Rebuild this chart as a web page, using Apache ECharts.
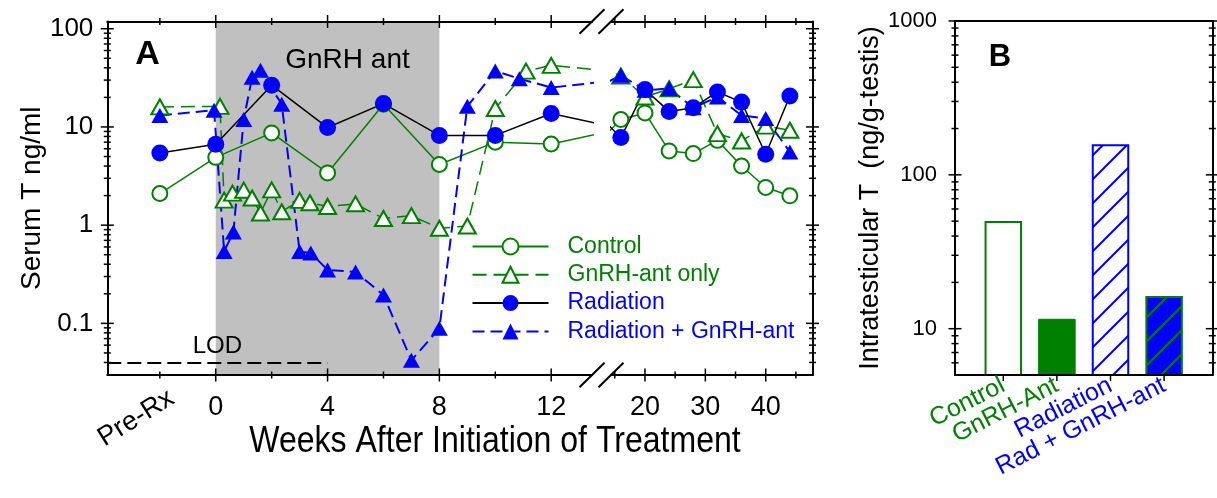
<!DOCTYPE html>
<html>
<head>
<meta charset="utf-8">
<script src="https://cdn.jsdelivr.net/npm/echarts@6.0.0/dist/echarts.min.js"></script>
<style>
html,body{margin:0;padding:0;background:#ffffff;}
#chart{width:1217px;height:498px;}
</style>
</head>
<body>
<div id="chart"></div>
<script>
// ================= DATA =================
// Panel A: serum T (ng/ml) vs weeks after initiation of treatment (-2 = Pre-Rx)
const CONTROL_WEEKS = [-2, 0, 2, 4, 6, 8, 10, 12, 16, 20, 24, 28, 32, 36, 40, 44];
const CONTROL_T     = [2.1, 4.9, 8.7, 3.4, 17.0, 4.15, 7.0, 6.7, 11.9, 13.9, 5.7, 5.36, 7.3, 4.0, 2.42, 1.99];

const RADIATION_WEEKS = [-2, 0, 2, 4, 6, 8, 10, 12, 16, 20, 24, 28, 32, 36, 40, 44];
const RADIATION_T     = [5.44, 6.67, 26.6, 9.86, 17.3, 8.2, 8.2, 13.7, 7.8, 24.0, 14.4, 15.7, 22.7, 17.9, 5.27, 20.7];

const GNRH_WEEKS = [-2, 0.15, 0.3, 0.6, 1.0, 1.3, 1.6, 2.0, 2.36, 3.0, 3.37, 4, 5, 6, 7, 8, 9, 10, 11.1, 12, 16, 20, 24, 28, 32, 36, 40, 44];
const GNRH_T     = [16.0, 16.2, 1.8, 2.12, 2.27, 1.89, 1.33, 2.29, 1.37, 1.79, 1.69, 1.55, 1.65, 1.17, 1.25, 0.93, 0.98, 15.4, 37.0, 42.4, 33.0, 20.2, 24.5, 30.3, 8.55, 7.2, 10.2, 9.25];

const RADGNRH_WEEKS = [-2, -0.06, 0.3, 0.63, 1.0, 1.3, 1.6, 2.36, 3.0, 3.4, 4, 5, 6, 7, 8, 9, 10, 10.86, 12, 16, 20, 24, 28, 32, 36, 40, 44];
const RADGNRH_T     = [13.1, 14.8, 0.54, 0.85, 11.9, 32.0, 37.7, 17.0, 0.54, 0.52, 0.35, 0.334, 0.194, 0.042, 0.089, 16.2, 37.2, 31.0, 25.2, 33.6, 23.6, 24.6, 15.7, 20.2, 13.1, 12.2, 5.57];

const SERIES_NAMES = ['Control', 'GnRH-ant only', 'Radiation', 'Radiation + GnRH-ant'];
const LOD_VALUE = 0.04;
const LOD_END_WEEK = 4;
const GNRH_PERIOD = [0, 8];

// Panel B: intratesticular T (ng/g-testis)
const B_CATEGORIES = ['Control', 'GnRH-Ant', 'Radiation', 'Rad + GnRH-ant'];
const B_VALUES     = [50.2, 11.6, 158, 16.3];

// Tick values / labels
const A_Y_LABEL_TICKS = [0.1, 1, 10, 100];
const A_Y_MINOR_TICKS = [0.04, 0.05, 0.06, 0.07, 0.08, 0.09, 0.2, 0.3, 0.4, 0.5, 0.6, 0.7, 0.8, 0.9,
                         2, 3, 4, 5, 6, 7, 8, 9, 20, 30, 40, 50, 60, 70, 80, 90];
const A1_X_LABEL_TICKS = [0, 4, 8, 12];
const A1_X_MINOR_TICKS = [-2, 2, 6, 10];
const PRE_RX_TICK = [-2];
const PRE_RX_LABEL = 'Pre-Rx';
const A2_X_LABEL_TICKS = [20, 30, 40];
const A2_X_MINOR_TICKS = [15, 25, 35, 45];
const B_Y_LABEL_TICKS = [10, 100, 1000];
const B_Y_MINOR_TICKS = [6, 7, 8, 9, 20, 30, 40, 50, 60, 70, 80, 90, 200, 300, 400, 500, 600, 700, 800, 900];

// ================= LAYOUT / STYLE =================
const A_TOP = 21.5, A_BOTTOM = 375;
const A1_LEFT = 107.3, A1_RIGHT = 592, A2_LEFT = 611, A2_RIGHT = 812.5;
const B_LEFT = 955, B_RIGHT = 1212.3, B_TOP = 21, B_BOTTOM = 375;
const B_CAT_LEFT = 976.5, B_CAT_WIDTH = 214.4;
const A1_XMIN = -3.88, A1_XMAX = 13.46, A2_XMIN = 14.37, A2_XMAX = 47.75;
const A_YMIN = 0.0298, A_YMAX = 118.5;
const B_XMIN = 0, B_XMAX = 1, B_YMIN = 5, B_YMAX = 1000;
const PRE_RX_SHIFT = 12;

const SANS = "'Liberation Sans', Arial, sans-serif";
const GREEN = '#008000', BLUE = '#0000ff', BLACK = '#000000';

function hatch(bg, fg, size, lw) {
  const c = document.createElement('canvas');
  c.width = size; c.height = size;
  const g = c.getContext('2d');
  g.fillStyle = bg; g.fillRect(0, 0, size, size);
  g.strokeStyle = fg; g.lineWidth = lw;
  g.beginPath();
  g.moveTo(-2, size + 2); g.lineTo(size + 2, -2);
  g.moveTo(-2, 2); g.lineTo(2, -2);
  g.moveTo(size - 2, size + 2); g.lineTo(size + 2, size - 2);
  g.stroke();
  return c;
}

const BAR_STYLES = [
  { color: '#ffffff', borderColor: GREEN, borderWidth: 2 },
  { color: GREEN, borderColor: GREEN, borderWidth: 1 },
  { color: { image: hatch('#ffffff', BLUE, 24, 2), repeat: 'repeat' }, borderColor: BLUE, borderWidth: 2 },
  { color: { image: hatch(BLUE, GREEN, 24, 2), repeat: 'repeat' }, borderColor: GREEN, borderWidth: 2 }
];
const B_LABEL_KEYS = ['g', 'g', 'b', 'b'];

const LINE_STYLES = {
  'Control': { line: { color: GREEN, width: 1.5, type: 'solid' }, symbol: 'circle', size: 15,
               item: { color: '#ffffff', borderColor: GREEN, borderWidth: 2 } },
  'GnRH-ant only': { line: { color: GREEN, width: 1.5, type: [14, 7] }, symbol: 'triangle', size: [17, 15],
               item: { color: '#ffffff', borderColor: GREEN, borderWidth: 2 } },
  'Radiation + GnRH-ant': { line: { color: BLUE, width: 2, type: [12, 6] }, symbol: 'triangle', size: [17, 15],
               item: { color: BLUE, borderWidth: 0 } },
  'Radiation': { line: { color: BLACK, width: 1.5, type: 'solid' }, symbol: 'circle', size: 17,
               item: { color: BLUE, borderWidth: 0 } }
};

const SERIES_DATA = {
  'Control': [CONTROL_WEEKS, CONTROL_T],
  'GnRH-ant only': [GNRH_WEEKS, GNRH_T],
  'Radiation + GnRH-ant': [RADGNRH_WEEKS, RADGNRH_T],
  'Radiation': [RADIATION_WEEKS, RADIATION_T]
};
const DRAW_ORDER = ['Control', 'GnRH-ant only', 'Radiation + GnRH-ant', 'Radiation'];

function zip(xs, ys) { return xs.map((x, i) => [x, ys[i]]); }

function lineSeries(name, xIdx, yIdx, extra) {
  const st = LINE_STYLES[name];
  const d = SERIES_DATA[name];
  return Object.assign({
    type: 'line', name: name, xAxisIndex: xIdx, yAxisIndex: yIdx,
    data: zip(d[0], d[1]),
    symbol: st.symbol, symbolSize: st.size, showAllSymbol: true,
    lineStyle: st.line, itemStyle: st.item,
    clip: true, silent: true, animation: false,
    emphasis: { disabled: true }
  }, extra || {});
}

function tickRender(params, api) {
  const p = api.coord([api.value(0), api.value(1)]);
  const kind = api.value(2);
  const L = api.value(3) ? 6.5 : 3.5;
  let shape;
  if (kind === 0) shape = { x1: p[0] - L, y1: p[1], x2: p[0] + L, y2: p[1] };
  else if (kind === 1) shape = { x1: p[0], y1: p[1] - L, x2: p[0], y2: p[1] + L };
  else shape = { x1: p[0], y1: p[1], x2: p[0], y2: p[1] + 6 };
  return { type: 'line', shape: shape, style: { stroke: BLACK, lineWidth: 1.5 } };
}
function tickSeries(xIdx, yIdx, items) {
  return { type: 'custom', xAxisIndex: xIdx, yAxisIndex: yIdx, silent: true, z: 12,
           animation: false, data: items, renderItem: tickRender };
}
function yTicks(xEdges, majors, minors) {
  const out = [];
  xEdges.forEach(x => {
    majors.forEach(v => out.push([x, v, 0, 1]));
    minors.forEach(v => out.push([x, v, 0, 0]));
  });
  return out;
}
function xTicks(yEdges, majors, minors) {
  const out = [];
  yEdges.forEach(y => {
    majors.forEach(v => out.push([v, y, 1, 1]));
    minors.forEach(v => out.push([v, y, 1, 0]));
  });
  return out;
}

const AXLINE = { show: true, onZero: false, lineStyle: { color: BLACK, width: 2 } };
function baseAxis(type, grid, min, max, pos, label, showLine) {
  const a = {
    type: type, gridIndex: grid, min: min, max: max, position: pos,
    axisLine: showLine === false ? { show: false, onZero: false } : AXLINE,
    axisTick: { show: false }, splitLine: { show: false }, minorTick: { show: false },
    minorSplitLine: { show: false },
    axisLabel: label || { show: false }, z: 10
  };
  if (type === 'log') a.logBase = 10;
  return a;
}

const chart = echarts.init(document.getElementById('chart'), null, { renderer: 'canvas', width: 1217, height: 498 });

const gridA1 = { left: A1_LEFT, top: A_TOP, width: A1_RIGHT - A1_LEFT, height: A_BOTTOM - A_TOP, outerBoundsMode: 'none', containLabel: false };
const gridA2 = { left: A2_LEFT, top: A_TOP, width: A2_RIGHT - A2_LEFT, height: A_BOTTOM - A_TOP, outerBoundsMode: 'none', containLabel: false };
const gridB  = { left: B_LEFT, top: B_TOP, width: B_RIGHT - B_LEFT, height: B_BOTTOM - B_TOP, outerBoundsMode: 'none', containLabel: false };
const gridPre = Object.assign({}, gridA1, { left: A1_LEFT + PRE_RX_SHIFT });
const gridBcat = Object.assign({}, gridB, { left: B_CAT_LEFT, width: B_CAT_WIDTH });

const option = {
  animation: false,
  backgroundColor: '#ffffff',
  textStyle: { fontFamily: SANS },
  grid: [gridA1, gridA2, gridB, gridPre, gridBcat],
  xAxis: [
    baseAxis('value', 0, A1_XMIN, A1_XMAX, 'bottom',
      { show: true, customValues: A1_X_LABEL_TICKS, fontFamily: SANS, fontSize: 27, color: BLACK, margin: 19 }),
    baseAxis('value', 0, A1_XMIN, A1_XMAX, 'top'),
    baseAxis('value', 1, A2_XMIN, A2_XMAX, 'bottom',
      { show: true, customValues: A2_X_LABEL_TICKS, fontFamily: SANS, fontSize: 27, color: BLACK, margin: 19 }),
    baseAxis('value', 1, A2_XMIN, A2_XMAX, 'top'),
    baseAxis('value', 2, B_XMIN, B_XMAX, 'bottom'),
    baseAxis('value', 2, B_XMIN, B_XMAX, 'top'),
    baseAxis('value', 3, A1_XMIN, A1_XMAX, 'bottom',
      { show: true, customValues: PRE_RX_TICK, formatter: () => PRE_RX_LABEL, rotate: 32,
        showMinLabel: true, showMaxLabel: true,
        fontFamily: SANS, fontSize: 27, color: BLACK, margin: 21 }, false),
    {
      type: 'category', gridIndex: 4, data: B_CATEGORIES, boundaryGap: true, position: 'bottom',
      axisLine: { show: false, onZero: false }, axisTick: { show: false }, splitLine: { show: false },
      axisLabel: { show: true, interval: 0, rotate: 27, margin: 9,
        formatter: (v, i) => '{' + B_LABEL_KEYS[i] + '|' + v + '}',
        rich: { g: { color: GREEN, fontSize: 25, fontFamily: SANS }, b: { color: BLUE, fontSize: 25, fontFamily: SANS } } },
      z: 10
    }
  ],
  yAxis: [
    Object.assign(baseAxis('log', 0, A_YMIN, A_YMAX, 'left',
      { show: true, showMinLabel: false, showMaxLabel: false, fontFamily: SANS, fontSize: 26, color: BLACK, margin: 14,
        formatter: v => String(+(+v).toPrecision(3)) }),
      { name: 'Serum T ng/ml', nameLocation: 'middle', nameGap: 61, nameRotate: 90,
        nameTextStyle: { fontFamily: SANS, fontSize: 28, color: BLACK } }),
    baseAxis('log', 1, A_YMIN, A_YMAX, 'right'),
    Object.assign(baseAxis('log', 2, B_YMIN, B_YMAX, 'left',
      { show: true, showMinLabel: false, showMaxLabel: true, fontFamily: SANS, fontSize: 22, color: BLACK, margin: 18,
        formatter: v => String(+(+v).toPrecision(4)) }),
      { name: 'Intratesticular T  (ng/g-testis)', nameLocation: 'middle', nameGap: 63, nameRotate: 90,
        nameTextStyle: { fontFamily: SANS, fontSize: 27, color: BLACK } }),
    baseAxis('log', 2, B_YMIN, B_YMAX, 'right'),
    { type: 'value', gridIndex: 3, show: false, min: 0, max: 1 },
    { type: 'log', logBase: 10, gridIndex: 4, show: false, min: B_YMIN, max: B_YMAX }
  ],
  legend: {
    show: true, orient: 'vertical', left: 471.5, top: 235, padding: 0,
    itemWidth: 76, itemHeight: 20, itemGap: 5.3, selectedMode: false,
    textStyle: { fontFamily: SANS, fontSize: 23, padding: [0, 0, 0, 14] },
    data: [
      { name: 'Control', textStyle: { color: GREEN } },
      { name: 'GnRH-ant only', textStyle: { color: GREEN } },
      { name: 'Radiation', textStyle: { color: BLUE } },
      { name: 'Radiation + GnRH-ant', textStyle: { color: BLUE } }
    ]
  },
  series: [].concat(
    DRAW_ORDER.map((n, i) => lineSeries(n, 0, 0, i === 0 ? {
      markArea: { silent: true, itemStyle: { color: '#c0c0c0' }, label: { show: false },
                  data: [[{ xAxis: GNRH_PERIOD[0] }, { xAxis: GNRH_PERIOD[1] }]] },
      markLine: { silent: true, symbol: ['none', 'none'], animation: false,
                  lineStyle: { color: BLACK, width: 2, type: [14, 6] },
                  label: { show: true, position: 'insideMiddleTop', formatter: 'LOD', fontFamily: SANS, fontSize: 24, color: BLACK, distance: 4 },
                  data: [[{ coord: [A1_XMIN, LOD_VALUE] }, { coord: [LOD_END_WEEK, LOD_VALUE] }]] }
    } : null)),
    DRAW_ORDER.map(n => lineSeries(n, 2, 1)),
    [{
      type: 'bar', xAxisIndex: 7, yAxisIndex: 5, barWidth: 37.5, silent: true, animation: false, clip: true,
      data: B_VALUES.map((v, i) => ({ value: v, itemStyle: BAR_STYLES[i] }))
    }],
    [
      tickSeries(0, 0, yTicks([A1_XMIN], A_Y_LABEL_TICKS, A_Y_MINOR_TICKS)
                 .concat(xTicks([A_YMIN, A_YMAX], A1_X_LABEL_TICKS, A1_X_MINOR_TICKS))),
      tickSeries(2, 1, yTicks([A2_XMAX], A_Y_LABEL_TICKS, A_Y_MINOR_TICKS)
                 .concat(xTicks([A_YMIN, A_YMAX], A2_X_LABEL_TICKS, A2_X_MINOR_TICKS))),
      tickSeries(4, 2, yTicks([B_XMIN, B_XMAX], B_Y_LABEL_TICKS, B_Y_MINOR_TICKS)),
      tickSeries(7, 5, B_CATEGORIES.map((c, i) => [i, B_YMIN, 2, 1]))
    ]
  ),
  graphic: [
    { type: 'text', x: 147.5, y: 54.5, z: 20, style: { text: 'A', fontFamily: SANS, fontWeight: 'bold', fontSize: 34, fill: BLACK, align: 'center', verticalAlign: 'middle' } },
    { type: 'text', x: 1000, y: 57.5, z: 20, style: { text: 'B', fontFamily: SANS, fontWeight: 'bold', fontSize: 31, fill: BLACK, align: 'center', verticalAlign: 'middle' } },
    { type: 'text', x: 347.5, y: 60, z: 20, style: { text: 'GnRH ant', fontFamily: SANS, fontSize: 28, fill: BLACK, align: 'center', verticalAlign: 'middle' } },
    { type: 'text', x: 495, y: 442, z: 20, scaleX: 0.89, style: { text: 'Weeks After Initiation of Treatment', fontFamily: SANS, fontSize: 36, fill: BLACK, align: 'center', verticalAlign: 'middle' } }
  ].concat(
    [A1_RIGHT, A2_LEFT].flatMap(x => [A_TOP, A_BOTTOM].map(y => ({
      type: 'line', z: 20, shape: { x1: x - 12.5, y1: y + 12.3, x2: x + 12.5, y2: y - 12.3 },
      style: { stroke: BLACK, lineWidth: 2 } })))
  )
};
chart.setOption(option);
</script>
</body>
</html>
